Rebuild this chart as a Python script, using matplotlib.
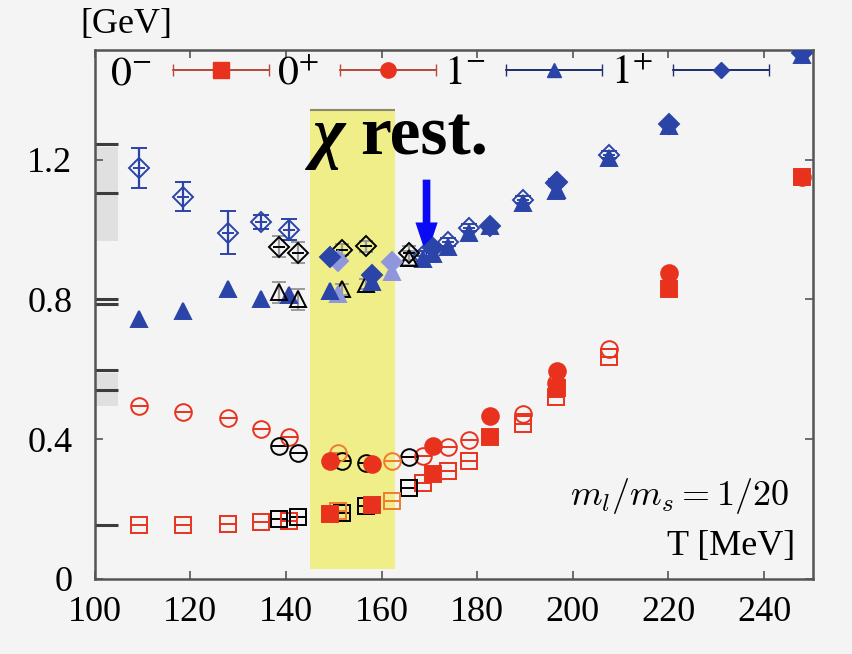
import numpy as np
import matplotlib.pyplot as plt
from matplotlib.container import ErrorbarContainer
from matplotlib.legend_handler import HandlerErrorbar

plt.rcParams['font.family'] = ['Liberation Serif', 'DejaVu Serif']
plt.rcParams['mathtext.fontset'] = 'stix'

# open coloured symbols
t_open = [109.2, 118.4, 127.8, 134.7, 140.7, 168.6, 173.8, 178.3, 189.6, 196.5, 207.5]
ps_open = [0.155, 0.155, 0.157, 0.162, 0.166, 0.274, 0.308, 0.337, 0.443, 0.520, 0.634]
sc_open = [0.494, 0.477, 0.460, 0.428, 0.405, 0.352, 0.377, 0.397, 0.471, 0.560, 0.657]
v_open = [0.743, 0.766, 0.829, 0.800, 0.812, 0.915, 0.950, 0.990, 1.075, 1.110, 1.205]
av_open = [1.177, 1.094, 0.991, 1.023, 1.000, 0.925, 0.965, 1.006, 1.086, 1.134, 1.214]
av_open_err = [0.057, 0.042, 0.062, 0.020, 0.030, 0.015, 0.012, 0.010, 0.010, 0.010, 0.010]

# filled coloured symbols
t_fill = [149.3, 158.0, 170.7, 182.7, 196.7, 220.2, 247.9]
ps_fill = [0.186, 0.211, 0.300, 0.406, 0.548, 0.829, 1.151]
sc_fill = [0.338, 0.328, 0.380, 0.466, 0.594, 0.877, 1.151]
v_fill = [0.823, 0.851, 0.930, 1.009, 1.114, 1.296, 1.500]
av_fill = [0.923, 0.870, 0.948, 1.009, 1.137, 1.303, 1.506]

# black symbols
t_blk = [138.6, 142.6, 151.8, 156.8, 165.8]
ps_blk = [0.171, 0.177, 0.190, 0.209, 0.260]
sc_blk = [0.380, 0.362, 0.338, 0.333, 0.348]
v_blk = [0.820, 0.800, 0.829, 0.845, 0.920]
av_blk = [0.951, 0.934, 0.943, 0.952, 0.934]
blk_err = [0.030, 0.030, 0.015, 0.015, 0.020]

# lighter symbols at the edges of the band
t_lt = [150.9, 162.2]
ps_lt = [0.195, 0.223]
sc_lt = [0.360, 0.338]
v_lt = [0.815, 0.880]
av_lt = [0.910, 0.906]

# physical masses on the left edge
pdg = [0.155, 0.540, 0.598, 0.786, 0.800, 1.105, 1.245]
band_lo = [0.494, 0.966]
band_hi = [0.590, 1.237]

RED = '#e8321e'
ORANGE = '#f07a30'
BLUE = '#2a44a8'
LBLUE = '#8f96dc'


def draw(ax, t, m, color, marker, filled, err=None, ecolor=None, cap=0, bar=False, ms=12):
    ax.errorbar(t, m, yerr=err, fmt=marker, ms=ms, mfc=color if filled else 'none',
                mec=color, mew=1.4, ecolor=ecolor or color, elinewidth=1.6,
                capsize=cap, capthick=1.6, zorder=3)
    if bar:
        ax.plot(t, m, ls='none', marker='_', ms=ms - 1, mew=1.4, color=color, zorder=3)


fig = plt.figure(figsize=(8.53, 6.54), dpi=100, facecolor='#f4f4f4')
ax = fig.add_axes([0.111, 0.1147, 0.842, 0.8088], facecolor='#f4f4f4')

ax.fill_betweenx([0.03, 1.343], 145, 162.7, color='#f0ee88', zorder=1, lw=0)
ax.hlines(1.343, 145, 162.7, color='#8a8a70', lw=1.5, zorder=1)

for lo, hi in zip(band_lo, band_hi):
    ax.fill_between([100, 104.8], lo, hi, color='#e0e0e0', lw=0, zorder=1)
ax.hlines(pdg, 100, 104.8, color='#3c3c3c', lw=2.2, zorder=2)

# open coloured
draw(ax, t_open, ps_open, RED, 's', False, bar=True)
draw(ax, t_open, sc_open, RED, 'o', False, bar=True)
draw(ax, t_open, v_open, BLUE, '^', True, err=0.01)
draw(ax, t_open, av_open, BLUE, 'D', False, err=av_open_err, cap=6, bar=True, ms=10)
# black
draw(ax, t_blk, ps_blk, 'black', 's', False, bar=True)
draw(ax, t_blk, sc_blk, 'black', 'o', False, bar=True)
draw(ax, t_blk, v_blk, 'black', '^', False, err=blk_err, ecolor='#9a9a9a', cap=5)
draw(ax, t_blk, av_blk, 'black', 'D', False, err=blk_err, ecolor='#9a9a9a', cap=5, bar=True, ms=10)
# light
draw(ax, t_lt, ps_lt, ORANGE, 's', False, bar=True)
draw(ax, t_lt, sc_lt, ORANGE, 'o', False, bar=True)
draw(ax, t_lt, v_lt, LBLUE, '^', True, err=0.02)
draw(ax, t_lt, av_lt, LBLUE, 'D', True, err=0.02, ms=10)
# filled coloured
draw(ax, t_fill, sc_fill, RED, 'o', True)
draw(ax, t_fill, ps_fill, RED, 's', True)
draw(ax, t_fill, v_fill, BLUE, '^', True)
draw(ax, t_fill, av_fill, BLUE, 'D', True, ms=10)

# legend proxies
h_ps = ax.errorbar([np.nan], [np.nan], xerr=[1], fmt='s-', color='#b84a3a', mfc=RED, mec=RED, ms=11, capsize=4, lw=1.3)
h_sc = ax.errorbar([np.nan], [np.nan], xerr=[1], fmt='o-', color='#b84a3a', mfc=RED, mec=RED, ms=11, capsize=4, lw=1.3)
h_v = ax.errorbar([np.nan], [np.nan], xerr=[1], fmt='^-', color='#23306e', mfc=BLUE, mec=BLUE, ms=10, capsize=4, lw=1.3)
h_av = ax.errorbar([np.nan], [np.nan], xerr=[1], fmt='D-', color='#23306e', mfc=BLUE, mec=BLUE, ms=8, capsize=4, lw=1.3)
ax.legend([h_ps, h_sc, h_v, h_av], ['$0^{-}$', '$0^{+}$', '$1^{-}$', '$1^{+}$'],
          loc='center left', bbox_to_anchor=(0.022, 0.955), ncol=4, frameon=False,
          markerfirst=False, fontsize=30, handlelength=2.3, handletextpad=0.5,
          columnspacing=0.2, borderpad=0, borderaxespad=0,
          handler_map={ErrorbarContainer: HandlerErrorbar(xerr_size=1.15)})

ax.annotate('', xy=(169.4, 0.925), xytext=(169.4, 1.143),
            arrowprops=dict(color='#0a0af5', width=5.5, headwidth=16, headlength=24, lw=0))
ax.text(145.4, 1.214, 'χ', fontsize=50, fontweight='bold', fontstyle='italic',
        ha='left', va='baseline', zorder=4)
ax.text(155.6, 1.214, 'rest.', fontsize=50, fontweight='bold', ha='left', va='baseline', zorder=4)
ax.text(0.967, 0.14, r'$m_l/m_s=1/20$', transform=ax.transAxes, fontsize=26,
        ha='right', va='baseline', math_fontfamily='cm')
ax.text(0.975, 0.045, 'T [MeV]', transform=ax.transAxes, fontsize=26, ha='right', va='baseline')
fig.text(0.094, 0.962, '[GeV]', fontsize=26, ha='left', va='center')

ax.set_xlim(100, 250.2)
ax.set_ylim(0, 1.514)
ax.set_xticks([100, 120, 140, 160, 180, 200, 220, 240])
ax.set_yticks([0, 0.4, 0.8, 1.2])
ax.set_yticklabels(['0', '0.4', '0.8', '1.2'])
ax.tick_params(direction='in', top=True, right=True, length=6, width=1.2,
               color='#555555', labelsize=26)
ax.tick_params(axis='x', pad=12)
ax.tick_params(axis='y', pad=16)
for s in ax.spines.values():
    s.set_color('#555555')
    s.set_linewidth(1.8)

fig.savefig('out.png', dpi=100, facecolor=fig.get_facecolor())
